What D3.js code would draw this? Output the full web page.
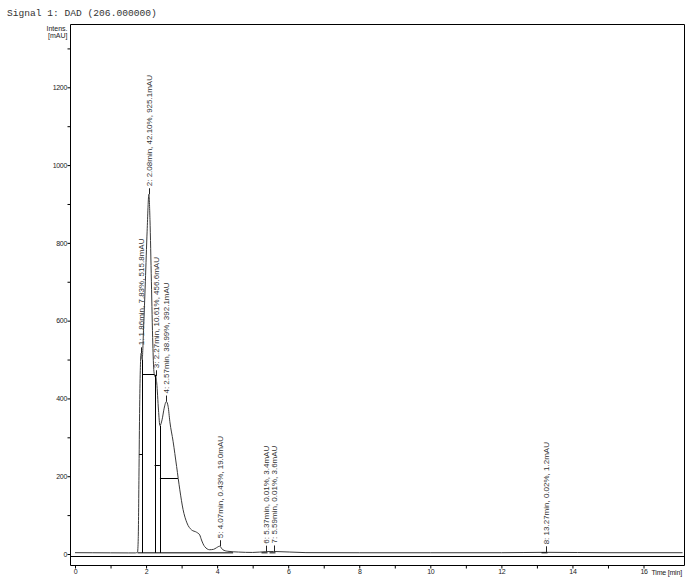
<!DOCTYPE html>
<html><head><meta charset="utf-8">
<script src="https://cdn.jsdelivr.net/npm/d3@7"></script>
<style>
html,body{margin:0;padding:0;background:#fff;}
svg{display:block;}
text{font-family:Arial,"Liberation Sans",sans-serif;}
</style></head>
<body><svg id="c" width="694" height="587"></svg>
<script>
// ---- data ----
const times  = [0, 0.5, 1.0, 1.5, 1.7, 1.76, 1.78, 1.80, 1.82, 1.84, 1.86, 1.875, 1.89, 1.93, 1.98, 2.03, 2.08, 2.11, 2.15, 2.19, 2.22, 2.25, 2.27, 2.30, 2.35, 2.39, 2.45, 2.51, 2.57, 2.62, 2.67, 2.76, 2.86, 2.95, 3.04, 3.15, 3.28, 3.42, 3.51, 3.56, 3.65, 3.79, 3.90, 3.98, 4.07, 4.16, 4.30, 4.60, 5.00, 5.37, 5.59, 6.50, 8.00, 10.0, 12.0, 13.27, 15.0, 17.1];
const signal = [3.4, 3.2, 3.0, 2.8, 2.8, 5, 40, 200, 380, 480, 516, 510, 500, 580, 700, 830, 925, 860, 700, 540, 470, 456, 457, 440, 370, 330, 345, 375, 392, 380, 340, 290, 225, 165, 115, 80, 62, 56, 49, 36, 19, 11, 12, 16, 20, 11, 7, 5, 4, 6, 6.5, 3.5, 3.2, 3.2, 3.3, 4.3, 3.3, 3.3];
const peakNums    = [1, 2, 3, 4, 5, 6, 7, 8];
const peakTimes   = [1.86, 2.08, 2.27, 2.57, 4.07, 5.37, 5.59, 13.27];
const peakPercent = ["7.83", "42.10", "10.61", "38.99", "0.43", "0.01", "0.01", "0.02"];
const peakHeights = [515.8, 925.1, 456.6, 392.1, 19.0, 3.4, 3.6, 1.2];
const peakApex    = [516, 925, 457, 392, 20, 6, 6.5, 4.3];
const dropTimes   = [1.89, 2.24, 2.39];
const baseStart = 1.76, baseEnd = 4.45, baseLevel = 3;
const xTicks = d3.range(0, 17, 1);
const yTicks = d3.range(0, 1301, 100);
const titleText = "Signal 1: DAD (206.000000)";

// ---- drawing ----
const svg = d3.select("#c");
svg.append("rect").attr("width",694).attr("height",587).attr("fill","#fff");

const x = d3.scaleLinear().domain([0,16]).range([75,643.5]);
const y = d3.scaleLinear().domain([0,1200]).range([554,87.3]);
const L=70, R=684, T=24, B=556, AX=565;

svg.append("text").attr("x",7).attr("y",16)
  .style("font-family","'Liberation Mono','DejaVu Sans Mono',monospace")
  .style("font-size","9.6px").attr("fill","#333").text(titleText);
svg.append("text").attr("x",67.5).attr("y",30.5).attr("text-anchor","end")
  .style("font-size","7px").attr("fill","#222").text("Intens.");
svg.append("text").attr("x",67.5).attr("y",38).attr("text-anchor","end")
  .style("font-size","7px").attr("fill","#222").text("[mAU]");

// frame
const fr = svg.append("g").attr("stroke","#000").attr("stroke-width",1).attr("fill","none");
fr.append("path").attr("d",`M${L+0.5},${T+0.5}H${R+0.5}V${AX+0.5}M${L+0.5},${T+0.5}V${AX+0.5}H${R+0.5}M${L},${B+0.5}H${R+0.5}`);

// y axis
const ya = svg.append("g").attr("transform",`translate(${L+0.5},0)`)
  .call(d3.axisLeft(y).tickValues(yTicks).tickSize(3).tickFormat(d=>d%200===0?d:""));
ya.select(".domain").remove();
ya.selectAll("text").style("font-size","7px").style("font-family","Arial,'Liberation Sans',sans-serif").attr("fill","#222").attr("x",-3.5).style("letter-spacing","-0.3px");
ya.selectAll("line").attr("stroke","#000");

// x axis
const xa = svg.append("g").attr("transform",`translate(0,${AX+0.5})`)
  .call(d3.axisBottom(x).tickValues(xTicks).tickSize(3).tickFormat(d=>d%2===0?d:""));
xa.select(".domain").remove();
xa.selectAll("text").style("font-size","7px").style("font-family","Arial,'Liberation Sans',sans-serif").attr("fill","#222").attr("y",4).style("letter-spacing","-0.3px");
svg.append("text").attr("x",651.5).attr("y",575).style("font-size","7px").style("letter-spacing","-0.2px").attr("fill","#222").text("Time [min]");

// signal curve
const pts = times.map((t,i)=>[t,signal[i]]);
const interp = t => {
  for (let i=1;i<times.length;i++){
    if (t<=times[i]){ const a=times[i-1], b=times[i]; const f=(t-a)/(b-a); return signal[i-1]+f*(signal[i]-signal[i-1]); }
  }
  return signal[signal.length-1];
};
const line = d3.line().x(d=>x(d[0])).y(d=>y(d[1])).curve(d3.curveMonotoneX);
svg.append("path").datum(pts).attr("d",line).attr("fill","none").attr("stroke","#3a3a3a").attr("stroke-width",1);

// integration baseline
svg.append("line").attr("x1",x(baseStart)).attr("x2",x(baseEnd)).attr("y1",y(baseLevel)).attr("y2",y(baseLevel)).attr("stroke","#000");

// drop lines
dropTimes.forEach(t=>{
  svg.append("line").attr("x1",Math.round(x(t))+0.5).attr("x2",Math.round(x(t))+0.5)
    .attr("y1",y(baseLevel)).attr("y2",y(interp(t))).attr("stroke","#000");
});

// half-height width lines for main peaks
const bounds = [times[0]].concat(dropTimes).concat([times[times.length-1]]);
for (let p=0;p<4;p++){
  const lo=bounds[p], hi=bounds[p+1], h=peakHeights[p]/2;
  let a=lo, b=hi;
  const N=2000;
  if (interp(lo)<h){ for(let k=0;k<=N;k++){const t=lo+(hi-lo)*k/N; if(interp(t)>=h){a=t;break;}} }
  if (interp(hi)<h){ for(let k=N;k>=0;k--){const t=lo+(hi-lo)*k/N; if(interp(t)>=h){b=t;break;}} }
  const yy=Math.round(y(h))+0.5;
  svg.append("line").attr("x1",x(a)).attr("x2",x(b)).attr("y1",yy).attr("y2",yy).attr("stroke","#000");
}

// small peak markers
for (let p=5;p<8;p++){
  const px=Math.round(x(peakTimes[p]))+0.5;
  svg.append("line").attr("x1",px-5).attr("x2",px+1).attr("y1",y(baseLevel)).attr("y2",y(baseLevel)).attr("stroke","#000");
}

// peak labels
peakTimes.forEach((t,i)=>{
  const px=x(t), py=y(peakApex[i]);
  svg.append("line").attr("x1",Math.round(px)+0.5).attr("x2",Math.round(px)+0.5).attr("y1",py).attr("y2",py-6).attr("stroke","#222");
  const s = `${peakNums[i]}: ${t.toFixed(2)}min, ${peakPercent[i]}%, ${peakHeights[i].toFixed(1)}mAU`;
  svg.append("text").attr("transform",`translate(${px+3},${py-8}) rotate(-90)`)
    .style("font-size","8px").attr("fill","#333").text(s);
});
</script></body></html>
